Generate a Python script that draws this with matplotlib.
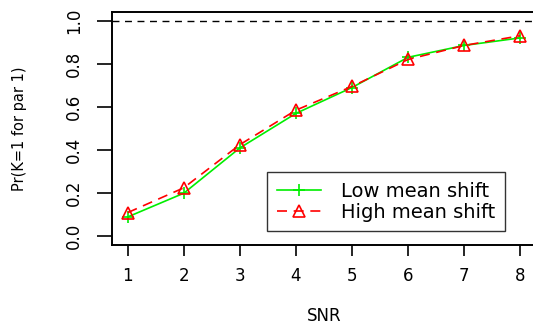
import matplotlib
matplotlib.use("Agg")
import matplotlib.pyplot as plt

# values
snr = [1, 2, 3, 4, 5, 6, 7, 8]
low_shift = [0.09, 0.20, 0.41, 0.57, 0.69, 0.83, 0.885, 0.92]
high_shift = [0.11, 0.225, 0.425, 0.585, 0.695, 0.82, 0.885, 0.93]
y_ticks = [0.0, 0.2, 0.4, 0.6, 0.8, 1.0]
y_tick_labels = ["0.0", "0.2", "0.4", "0.6", "0.8", "1.0"]

plt.rcParams["font.family"] = ["DejaVu Sans"]

fig = plt.figure(figsize=(5.33, 3.26), dpi=100)
ax = fig.add_axes([0.2101, 0.2485, 0.7955, 0.7147])

ax.plot(snr, low_shift, color="#00ee00", linestyle="-", linewidth=1.2,
        marker="+", markersize=9, markeredgewidth=1.2, label="Low mean shift")
ax.plot(snr, high_shift, color="#ff0000", linestyle=(0, (6, 4)), linewidth=1.2,
        marker="^", markersize=8, markerfacecolor="none", markeredgewidth=1.2,
        label="High mean shift")
ax.axhline(1.0, color="black", linestyle=(0, (5, 4)), linewidth=1.0)

ax.set_xlim(1 - 0.28, 8 + 0.28)
ax.set_ylim(-0.04, 1.04)

ax.set_xticks(snr)
ax.set_yticks(y_ticks)
ax.set_yticklabels(y_tick_labels, rotation=90, va="center")
ax.tick_params(axis="x", direction="out", length=8, width=1.2, pad=8, labelsize=12)
ax.tick_params(axis="y", direction="out", length=11, width=1.2, pad=10, labelsize=12)

for side in ["left", "bottom", "top", "right"]:
    ax.spines[side].set_linewidth(1.4)
    ax.spines[side].set_color("black")

ax.set_xlabel("SNR", fontsize=12, labelpad=16)
ax.set_ylabel("Pr(K=1 for par 1)", fontsize=10.5, labelpad=27)

leg = ax.legend(loc="upper left", bbox_to_anchor=(267 / 533, 1 - 172 / 326),
                bbox_transform=fig.transFigure, borderaxespad=0,
                fontsize=14, frameon=True, fancybox=False, edgecolor="black",
                handlelength=2.3, handletextpad=1.0, borderpad=0.5,
                labelspacing=0.1)
leg.get_frame().set_linewidth(1.0)

fig.savefig("out.png", dpi=100)
